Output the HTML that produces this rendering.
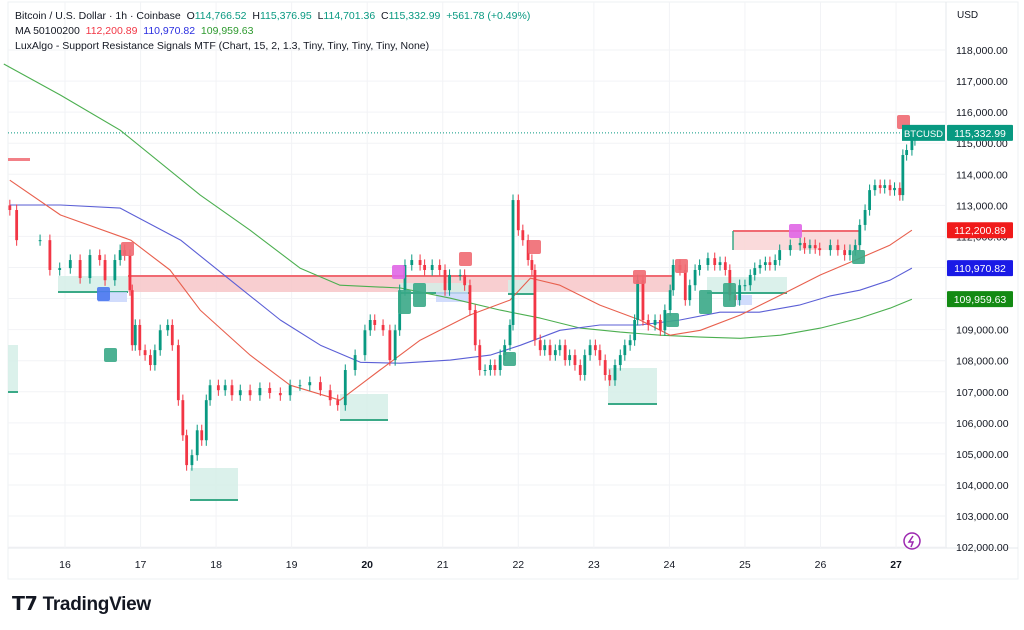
<!DOCTYPE html>
<html><head><meta charset="utf-8"><style>
body{margin:0;background:#fff;width:1024px;height:630px;overflow:hidden;font-family:"Liberation Sans",sans-serif}
#wrap{position:relative;width:1024px;height:630px}
.hd{position:absolute;left:15px;font-size:10.5px;color:#131722;white-space:nowrap}
.g{color:#089981}.r{color:#f23645}.b{color:#2a2ee0}.gr{color:#2e9a2e}
</style></head><body><div id="wrap">
<svg id="c" width="1024" height="630" style="position:absolute;left:0;top:0"></svg>
<div class="hd" style="top:10px">Bitcoin / U.S. Dollar · 1h · Coinbase &nbsp;O<span class="g">114,766.52</span> &nbsp;H<span class="g">115,376.95</span> &nbsp;L<span class="g">114,701.36</span> &nbsp;C<span class="g">115,332.99</span> &nbsp;<span class="g">+561.78 (+0.49%)</span></div>
<div class="hd" style="top:25px">MA 50100200 &nbsp;<span class="r">112,200.89</span> &nbsp;<span class="b">110,970.82</span> &nbsp;<span class="gr">109,959.63</span></div>
<div class="hd" style="top:40px">LuxAlgo - Support Resistance Signals MTF (Chart, 15, 2, 1.3, Tiny, Tiny, Tiny, Tiny, None)</div>
<div style="position:absolute;left:950px;top:6px;width:52px;height:20px;font-size:10px;color:#131722;line-height:20px;padding-left:7px">USD</div>
<div style="position:absolute;left:12px;top:593px;font-size:19px;font-weight:bold;color:#131722;letter-spacing:-0.3px"><span style="font-weight:900">𝗧𝟳</span> <span style="font-weight:600">TradingView</span></div>
</div>
<script>
const closes=[112.85,111.88,111.88,110.92,110.98,111.24,110.66,111.40,111.24,110.59,111.24,111.56,111.40,110.27,108.50,109.15,108.34,108.18,107.86,108.34,108.98,109.15,108.50,106.73,105.60,104.64,104.96,105.76,105.44,106.73,107.21,107.05,107.21,106.89,107.05,106.89,107.12,106.96,106.89,107.21,107.21,107.31,107.05,106.73,106.57,107.70,108.18,108.98,109.31,109.15,108.98,108.02,108.98,110.27,111.08,111.24,111.08,110.92,111.08,110.92,110.27,110.76,110.76,110.43,109.63,108.50,107.70,107.70,107.86,107.70,108.18,108.50,109.15,113.17,112.20,111.88,111.24,110.92,108.66,108.34,108.50,108.18,108.34,108.50,108.02,108.18,107.86,107.54,108.18,108.50,108.34,108.02,107.54,107.37,107.86,108.18,108.50,108.66,109.31,110.59,109.31,109.15,109.31,108.98,109.63,110.27,111.08,110.92,109.95,110.43,110.92,111.08,111.30,111.08,111.17,110.92,110.11,109.95,110.43,110.43,110.76,110.98,111.08,111.17,111.08,111.24,111.56,111.72,111.79,111.62,111.72,111.62,111.56,111.72,111.56,111.40,111.56,111.72,112.37,112.85,113.49,113.65,113.56,113.65,113.49,113.56,113.33,114.62,114.78,115.10,115.33];
const times=[15.27,15.36,15.67,15.80,15.93,16.07,16.20,16.33,16.46,16.53,16.66,16.73,16.79,16.86,16.89,16.93,16.99,17.06,17.13,17.19,17.26,17.36,17.42,17.50,17.56,17.61,17.68,17.75,17.81,17.87,17.92,18.03,18.12,18.21,18.32,18.45,18.58,18.71,18.85,18.98,19.11,19.24,19.38,19.51,19.61,19.71,19.84,19.97,20.04,20.10,20.21,20.30,20.37,20.43,20.50,20.59,20.70,20.76,20.86,20.96,21.03,21.09,21.23,21.29,21.36,21.43,21.49,21.56,21.63,21.69,21.76,21.82,21.89,21.93,22.00,22.06,22.13,22.18,22.22,22.29,22.35,22.42,22.49,22.55,22.62,22.68,22.75,22.82,22.88,22.95,23.02,23.08,23.15,23.21,23.28,23.35,23.41,23.48,23.54,23.58,23.65,23.72,23.81,23.88,23.94,24.01,24.05,24.14,24.21,24.27,24.34,24.40,24.51,24.60,24.67,24.74,24.80,24.87,24.93,25.00,25.07,25.13,25.20,25.27,25.33,25.40,25.46,25.60,25.73,25.79,25.86,25.93,25.99,26.13,26.23,26.32,26.39,26.46,26.52,26.59,26.65,26.72,26.79,26.85,26.92,26.98,27.05,27.09,27.14,27.21,27.25];
const firstOpen=113.0;
const ma50Days=[15.27,15.94,16.87,17.39,17.79,18.45,18.98,19.64,20.17,20.70,21.36,21.89,22.16,22.55,23.08,23.61,24.01,24.41,24.94,25.47,26.00,26.52,26.92,27.21];
const ma50=[113.81,112.69,111.88,110.92,109.63,108.18,107.21,106.73,107.70,108.66,109.47,109.95,110.66,110.43,109.79,109.31,108.82,108.98,109.47,110.11,110.76,111.30,111.72,112.20];
const ma100Days=[15.27,15.94,16.73,17.53,18.19,18.85,19.38,19.91,20.44,21.10,21.63,22.03,22.55,23.08,23.61,24.14,24.67,25.19,25.72,26.12,26.52,26.92,27.21];
const ma100=[113.01,113.01,112.91,111.88,110.59,109.31,108.50,107.95,107.92,108.02,108.18,108.50,108.98,109.15,109.15,109.31,109.56,109.56,109.79,110.08,110.27,110.59,110.98];
const ma200Days=[15.19,15.94,16.73,17.79,18.45,19.11,19.64,20.44,21.10,21.76,22.29,22.82,23.35,23.88,24.41,24.94,25.47,26.00,26.52,26.92,27.21];
const ma200=[117.55,116.55,115.42,113.33,112.20,110.98,110.43,110.34,110.01,109.63,109.37,109.05,108.92,108.82,108.76,108.72,108.82,109.05,109.37,109.69,109.98];
const priceTicks=[118,117,116,115,114,113,112,111,110,109,108,107,106,105,104,103,102];
const dayTicks=[16,17,18,19,20,21,22,23,24,25,26,27];
const boldDays=[20,27];
const lastPrice=115.33299;
const lastPriceText="115,332.99";
const maLast=["112,200.89","110,970.82","109,959.63"];

const svg=document.getElementById('c');
const NS='http://www.w3.org/2000/svg';
const X0=8,Y0=2,Y1=548;
const yP=p=>50+(118-p)*31.07;
const xD=d=>65+(d-16)*75.55;
function el(t,a,parent){const e=document.createElementNS(NS,t);for(const k in a)e.setAttribute(k,a[k]);(parent||svg).appendChild(e);return e;}

const frame=el('rect',{x:X0,y:Y0,width:1010,height:577,fill:'none',stroke:'#eef0f3'});


el('line',{x1:946,y1:Y0,x2:946,y2:Y1,stroke:'#e6e8ec'});
el('line',{x1:X0,y1:Y1,x2:1018,y2:Y1,stroke:'#e6e8ec'});
priceTicks.forEach(p=>{
  const y=yP(p);
  const gl=el('line',{x1:X0,y1:y,x2:946,y2:y,stroke:'#f2f3f6'});
  
  
  const t=el('text',{x:956,y:y+4,'font-size':10.5,fill:'#131722'});
  t.textContent=(p*1000).toLocaleString('en-US',{minimumFractionDigits:2});
  
  
});
dayTicks.forEach(d=>{
  const x=xD(d);
  const gl=el('line',{x1:x,y1:Y0,x2:x,y2:Y1,stroke:'#f2f3f6'});
  
  
  const t=el('text',{x:x,y:568,'font-size':10.5,fill:'#131722','text-anchor':'middle','font-weight':boldDays.includes(d)?'bold':'normal'});
  t.textContent=d;
  
  
});

const zones=[
 [128,276,672,292,'#f7c5c8','#f06a72'],[733,231,860,250,'#f9d3d5','#f06a72'],
 [58,276,128,292,'#d5eee7','#3aa987'],[8,345,18,392,'#d5eee7','#3aa987'],[190,468,238,500,'#d5eee7','#3aa987'],
 [340,394,388,420,'#d5eee7','#3aa987'],[608,368,657,404,'#d5eee7','#3aa987'],[400,283,470,293,'#d5eee7','#3aa987'],
 [508,280,535,294,'#d5eee7','#3aa987'],[707,277,787,293,'#d5eee7','#3aa987'],
 [98,292,127,302,'#c9d6fb',null],[436,292,468,302,'#c9d6fb',null],[737,295,752,305,'#c9d6fb',null],[8,158,30,161,'#f06a72',null]];
zones.forEach(z=>{
  const r=el('rect',{x:z[0],y:z[1],width:z[2]-z[0],height:z[3]-z[1],fill:z[4],opacity:0.85});
  
  
  if(z[5]){const isRed=z[5]==='#f06a72';el('line',{x1:z[0],x2:z[2],y1:isRed?z[1]:z[3],y2:isRed?z[1]:z[3],stroke:z[5],'stroke-width':2});}
});
el('line',{x1:733,y1:231,x2:733,y2:250,stroke:'#3aa987','stroke-width':1.5});

el('line',{x1:X0,y1:yP(lastPrice),x2:946,y2:yP(lastPrice),stroke:'#089981','stroke-dasharray':'1 2'});

function maLine(days,vals,color,name){
  let d='';days.forEach((dd,i)=>{d+=(i?'L':'M')+xD(dd).toFixed(1)+','+yP(vals[i]).toFixed(1);});
  const p=el('path',{d:d,fill:'none',stroke:color,'stroke-width':1.1,'stroke-linejoin':'round'});
  
  
}
maLine(ma200Days,ma200,'#4caf50','ma200-line');
maLine(ma100Days,ma100,'#5b5fd6','ma100-line');
maLine(ma50Days,ma50,'#e8604e','ma50-line');

closes.forEach((c,i)=>{
  const o=i?closes[i-1]:firstOpen;
  const x=xD(times[i]);
  const up=c>=o, col=up?'#089981':'#f23645';
  const hi=Math.max(o,c)+0.18, lo=Math.min(o,c)-0.18;
  const g=el('g',{});
  
  
  el('line',{x1:x,x2:x,y1:yP(hi),y2:yP(lo),stroke:col,'stroke-width':1},g);
  const top=yP(Math.max(o,c)),h=Math.max(1,Math.abs(yP(o)-yP(c)));
  el('rect',{x:x-1.4,y:top,width:2.8,height:h,fill:col},g);
});

const marks=[[121,242,'#f06a72'],[459,252,'#f06a72'],[528,240,'#f06a72'],[633,270,'#f06a72'],[675,259,'#f06a72'],[392,265,'#e066e6'],[789,224,'#e066e6'],[897,115,'#f06a72'],
 [398,290,'#3aa987'],[413,283,'#3aa987'],[503,352,'#3aa987'],[666,313,'#3aa987'],[699,290,'#3aa987'],[723,283,'#3aa987'],[852,250,'#3aa987'],[97,287,'#4a78f0'],[104,348,'#3aa987']];
marks.forEach(m=>{
  const r=el('rect',{x:m[0],y:m[1],width:13,height:m[2]==='#3aa987'&&m[1]>280&&m[1]<300?24:14,rx:2,fill:m[2],opacity:0.9});
  
  
});

function plabel(y,txt,bg,name){
  const r=el('rect',{x:947,y:y-8,width:66,height:16,fill:bg,rx:1});
  
  
  const t=el('text',{x:980,y:y+4,'font-size':10.5,fill:'#fff','text-anchor':'middle'});
  t.textContent=txt;
}
const bt=el('rect',{x:902,y:yP(lastPrice)-8,width:43,height:16,fill:'#089981'});


const btt=el('text',{x:923.5,y:yP(lastPrice)+4,'font-size':9.5,fill:'#fff','text-anchor':'middle'});btt.textContent='BTCUSD';
plabel(yP(lastPrice),lastPriceText,'#089981','last-price-label');
plabel(yP(ma50[ma50.length-1]),maLast[0],'#f01a1a','ma50-price-label');
plabel(yP(ma100[ma100.length-1]),maLast[1],'#1a1ae6','ma100-price-label');
plabel(yP(ma200[ma200.length-1]),maLast[2],'#138a13','ma200-price-label');

const ic=el('circle',{cx:912,cy:541,r:8,fill:'none',stroke:'#9c27b0','stroke-width':1.5});


el('path',{d:'M913 536 L909 542 L913 542 L911 547',fill:'none',stroke:'#9c27b0','stroke-width':1.5});
</script></body></html>
